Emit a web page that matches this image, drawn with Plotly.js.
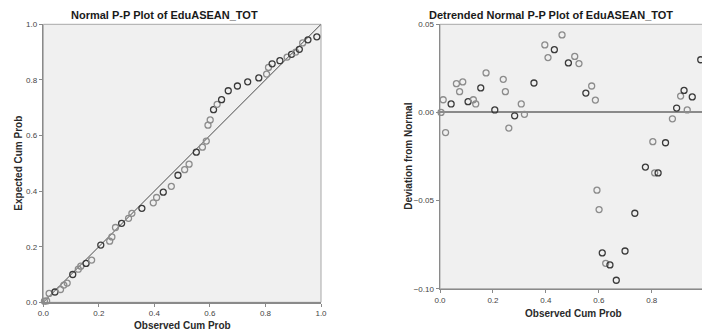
<!DOCTYPE html>
<html>
<head>
<meta charset="utf-8">
<script src="https://cdn.plot.ly/plotly-3.0.1.min.js"></script>
<style>
  html, body { margin: 0; padding: 0; overflow: hidden; background: #fff; }
  #chart { width: 710px; height: 336px; }
</style>
</head>
<body>
<div id="chart"></div>
<script>
// Observed cumulative probabilities (shared by both plots)
const observedCumProb = [0.004,0.012,0.021,0.042,0.062,0.074,0.086,0.106,0.126,0.135,
  0.154,0.174,0.207,0.239,0.247,0.260,0.282,0.307,0.319,0.355,
  0.396,0.408,0.432,0.461,0.485,0.509,0.525,0.551,0.573,0.587,
  0.593,0.601,0.613,0.626,0.642,0.666,0.699,0.736,0.776,0.804,
  0.811,0.824,0.852,0.878,0.894,0.909,0.922,0.934,0.953,0.985];
// Expected cumulative probabilities (left plot)
const expectedCumProb = [0.004,0.005,0.032,0.037,0.046,0.062,0.069,0.100,0.119,0.130,
  0.140,0.152,0.206,0.220,0.235,0.269,0.284,0.302,0.320,0.338,
  0.358,0.377,0.396,0.417,0.457,0.477,0.497,0.540,0.558,0.580,
  0.637,0.656,0.693,0.712,0.729,0.761,0.778,0.793,0.807,0.821,
  0.845,0.858,0.869,0.882,0.892,0.900,0.910,0.933,0.944,0.955];
// Deviation from normal (right plot)
const deviationFromNormal = [0.0000,0.0072,-0.0114,0.0048,0.0163,0.0118,0.0173,0.0061,0.0072,0.0048,
  0.0139,0.0224,0.0014,0.0188,0.0118,-0.0089,-0.0019,0.0048,-0.0011,0.0167,
  0.0383,0.0311,0.0356,0.0440,0.0281,0.0318,0.0277,0.0110,0.0150,0.0070,
  -0.0441,-0.0551,-0.0797,-0.0856,-0.0865,-0.0952,-0.0786,-0.0572,-0.0310,-0.0166,
  -0.0343,-0.0343,-0.0172,-0.0036,0.0025,0.0093,0.0125,0.0014,0.0088,0.0299];
// Number of overlapping cases drawn at each point (darker circle when > 1)
const casesAtPoint = [1,1,1,2,1,1,1,2,1,1,
  2,1,2,1,1,1,2,1,1,2,
  1,1,2,1,2,1,1,2,1,1,
  1,1,2,1,2,2,2,2,2,1,
  1,2,2,1,2,1,2,1,2,2];
// Reference line and tick values
const refLine = [0, 1];
const xTicks = [0, 0.2, 0.4, 0.6, 0.8, 1.0];
const yTicksLeft = [0, 0.2, 0.4, 0.6, 0.8, 1.0];
const yTicksRight = [-0.10, -0.05, 0.00, 0.05];

const W = 710, H = 336;
const px = v => v / W;
const py = v => 1 - v / H;

const ptColors = casesAtPoint.map(c => c > 1 ? '#3a3a3a' : '#8c8c8c');
const markerStyle = { symbol: 'circle-open', size: 6, color: ptColors, line: { width: 1.3 } };

const traces = [
  { x: refLine, y: refLine, mode: 'lines', line: { color: '#4a4a4a', width: 1 },
    xaxis: 'x', yaxis: 'y', hoverinfo: 'skip' },
  { x: observedCumProb, y: expectedCumProb, mode: 'markers', marker: markerStyle,
    xaxis: 'x', yaxis: 'y', cliponaxis: false },
  { x: observedCumProb, y: deviationFromNormal, mode: 'markers', marker: markerStyle,
    xaxis: 'x2', yaxis: 'y2', cliponaxis: false }
];

const tickFont = { family: 'Liberation Sans, Arial, sans-serif', size: 8, color: '#444' };
const axisCommon = {
  showgrid: false, zeroline: false, showline: true, linecolor: '#8a8a8a', linewidth: 1.5,
  ticks: 'outside', ticklen: 3, tickcolor: '#8a8a8a', tickwidth: 1, tickfont: tickFont,
  fixedrange: true
};

const layout = {
  width: W, height: H,
  margin: { l: 0, r: 0, t: 0, b: 0, pad: 0 },
  paper_bgcolor: '#ffffff', plot_bgcolor: '#f0f0f0',
  showlegend: false,
  font: { family: 'Liberation Sans, Arial, sans-serif' },
  xaxis: Object.assign({}, axisCommon, { domain: [px(43.3), px(321)], range: [0, 1],
    tickvals: xTicks, tickformat: '.1f', anchor: 'y' }),
  yaxis: Object.assign({}, axisCommon, { domain: [py(302.3), py(24.3)], range: [0, 1],
    tickvals: yTicksLeft, tickformat: '.1f', anchor: 'x' }),
  xaxis2: Object.assign({}, axisCommon, { domain: [px(440), px(704.7)], range: [0, 1],
    tickvals: xTicks, tickformat: '.1f', anchor: 'y2' }),
  yaxis2: Object.assign({}, axisCommon, { domain: [py(288.7), py(24.3)], range: [-0.10, 0.05],
    tickvals: yTicksRight, tickformat: '.2f', anchor: 'x2',
    zeroline: true, zerolinecolor: '#8a8a8a', zerolinewidth: 2 }),
  shapes: [
    { type: 'rect', xref: 'x domain', yref: 'y domain', x0: 0, x1: 1, y0: 0, y1: 1,
      line: { color: '#a8a8a8', width: 1 }, layer: 'below' },
    { type: 'rect', xref: 'x2 domain', yref: 'y2 domain', x0: 0, x1: 1, y0: 0, y1: 1,
      line: { color: '#a8a8a8', width: 1 }, layer: 'below' }
  ],
  annotations: [
    { text: '<b>Normal P-P Plot of EduASEAN_TOT</b>', xref: 'paper', yref: 'paper',
      x: px(164), y: py(15), xanchor: 'center', yanchor: 'middle', showarrow: false,
      font: { size: 11, color: '#1a1a1a' } },
    { text: '<b>Detrended Normal P-P Plot of EduASEAN_TOT</b>', xref: 'paper', yref: 'paper',
      x: px(551.3), y: py(15), xanchor: 'center', yanchor: 'middle', showarrow: false,
      font: { size: 11, color: '#1a1a1a' } },
    { text: '<b>Observed Cum Prob</b>', xref: 'paper', yref: 'paper',
      x: px(182.5), y: py(325.7), xanchor: 'center', yanchor: 'middle', showarrow: false,
      font: { size: 10, color: '#2a2a2a' } },
    { text: '<b>Observed Cum Prob</b>', xref: 'paper', yref: 'paper',
      x: px(573), y: py(313), xanchor: 'center', yanchor: 'middle', showarrow: false,
      font: { size: 10, color: '#2a2a2a' } },
    { text: '<b>Expected Cum Prob</b>', xref: 'paper', yref: 'paper', textangle: -90,
      x: px(17.7), y: py(163), xanchor: 'center', yanchor: 'middle', showarrow: false,
      font: { size: 10, color: '#2a2a2a' } },
    { text: '<b>Deviation from Normal</b>', xref: 'paper', yref: 'paper', textangle: -90,
      x: px(408.3), y: py(156.5), xanchor: 'center', yanchor: 'middle', showarrow: false,
      font: { size: 10, color: '#2a2a2a' } }
  ]
};

Plotly.newPlot('chart', traces, layout, { displayModeBar: false, staticPlot: true });
</script>
</body>
</html>
